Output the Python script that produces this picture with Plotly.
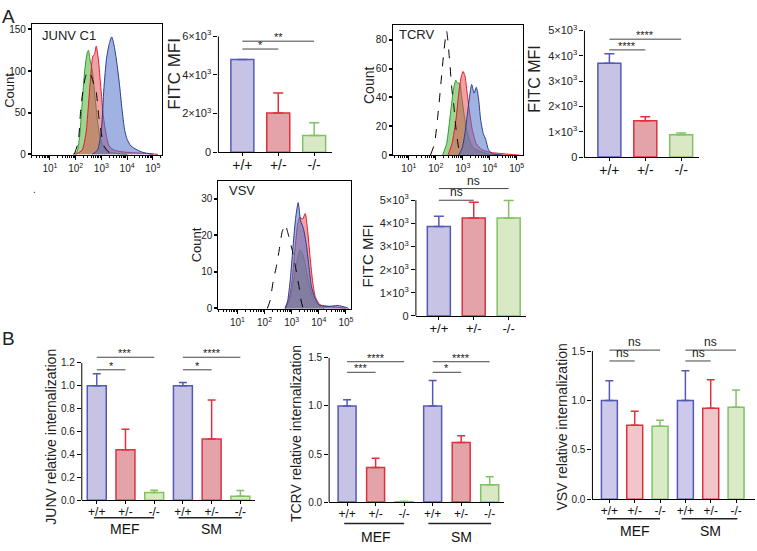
import math
import plotly.graph_objects as go

W, H = 757, 551
FONT = "Arial, Liberation Sans, sans-serif"

# ---------------- data ----------------
genotypes = ["+/+", "+/-", "-/-"]
groups = ["MEF", "SM"]
decades = [1, 2, 3, 4, 5]
decade_labels = ["10<sup>1</sup>", "10<sup>2</sup>", "10<sup>3</sup>", "10<sup>4</sup>", "10<sup>5</sup>"]

# Panel A histograms (x = log10 FITC, y = count)
junv_iso_x = [1.95, 2.1, 2.2, 2.3, 2.4, 2.5, 2.6, 2.7, 2.8, 2.9, 3.0, 3.1, 3.3, 3.5]
junv_iso_y = [0, 15, 55, 80, 95, 100, 95, 85, 75, 45, 25, 10, 2, 0]
junv_green_x = [1.9, 2.05, 2.15, 2.25, 2.35, 2.45, 2.5, 2.55, 2.65, 2.75, 2.85, 2.95, 3.1, 3.3, 3.6, 4.0]
junv_green_y = [0, 3, 20, 60, 100, 122, 125, 115, 100, 70, 40, 20, 8, 3, 1, 0]
junv_red_x = [2.0, 2.25, 2.4, 2.5, 2.6, 2.67, 2.73, 2.8, 2.88, 2.98, 3.08, 3.18, 3.3, 3.5, 3.8, 4.2, 4.8, 5.2]
junv_red_y = [0, 5, 25, 60, 100, 118, 120, 130, 115, 80, 45, 25, 10, 5, 3, 2, 1, 0]
junv_blue_x = [2.65, 2.85, 3.0, 3.1, 3.2, 3.3, 3.4, 3.5, 3.6, 3.7, 3.8, 3.9, 4.0, 4.15, 4.35, 4.55, 4.8, 5.0]
junv_blue_y = [0, 5, 30, 80, 115, 132, 141, 130, 110, 85, 55, 30, 18, 10, 6, 3, 1, 0]

tcrv_iso_x = [1.8, 1.95, 2.1, 2.2, 2.3, 2.4, 2.5, 2.6, 2.67, 2.75, 2.85, 2.95]
tcrv_iso_y = [0, 8, 32, 52, 72, 86, 68, 45, 34, 18, 5, 0]
tcrv_green_x = [2.25, 2.4, 2.55, 2.65, 2.74, 2.8, 2.88, 2.95, 3.05, 3.15, 3.25, 3.4, 3.6, 3.9, 4.3]
tcrv_green_y = [0, 8, 30, 45, 52, 50, 50, 42, 28, 17, 10, 5, 3, 1, 0]
tcrv_red_x = [2.45, 2.6, 2.75, 2.85, 2.95, 3.01, 3.08, 3.15, 3.25, 3.35, 3.5, 3.7, 4.0, 4.5, 5.1]
tcrv_red_y = [0, 8, 25, 43, 55, 58, 55, 45, 30, 18, 8, 4, 2, 1, 0]
tcrv_blue_x = [2.85, 2.98, 3.08, 3.18, 3.27, 3.33, 3.42, 3.5, 3.58, 3.66, 3.76, 3.85, 3.95, 4.1, 4.5]
tcrv_blue_y = [0, 5, 15, 30, 43, 49, 43, 47, 40, 25, 15, 11, 4, 1, 0]

vsv_iso_x = [2.1, 2.2, 2.32, 2.45, 2.54, 2.65, 2.76, 2.85, 2.95, 3.02, 3.15, 3.27, 3.35, 3.42]
vsv_iso_y = [0, 2, 7.5, 12, 16, 21, 23, 21, 18, 16, 11, 6, 2, 0]
vsv_green_x = [2.78, 2.9, 3.0, 3.1, 3.2, 3.3, 3.4, 3.5, 3.6, 3.7, 3.8, 3.95, 4.2]
vsv_green_y = [0, 2, 5, 9, 13, 16, 15, 12, 8, 5, 2.5, 1, 0]
vsv_red_x = [2.78, 2.92, 3.02, 3.12, 3.22, 3.3, 3.4, 3.5, 3.58, 3.68, 3.78, 3.88, 4.05, 4.5, 5.0]
vsv_red_y = [0, 3, 8, 16, 23, 25, 24.5, 26, 22, 14, 7, 3, 1, 0.5, 0]
vsv_blue_x = [2.75, 2.85, 2.95, 3.05, 3.15, 3.24, 3.33, 3.43, 3.53, 3.63, 3.73, 3.85, 4.0, 4.3, 4.7, 5.0, 5.1]
vsv_blue_y = [0, 2, 8, 17, 25, 29, 24, 22, 18, 12, 6, 3, 1, 0.5, 0.8, 0.3, 0]

# Panel A FITC MFI bars
junv_mfi = [4800, 2030, 870]
junv_mfi_err = [0, 1030, 660]
tcrv_mfi = [3700, 1440, 880]
tcrv_mfi_err = [380, 150, 70]
vsv_mfi = [3860, 4230, 4230]
vsv_mfi_err = [450, 680, 760]

junv_mfi_sig = [(0, 1, "*", 5339), (0, 2, "**", 5746)]
tcrv_mfi_sig = [(0, 1, "****", 4231), (0, 2, "****", 4654)]
vsv_mfi_sig = [(0, 1, "ns", 5000), (0, 2, "ns", 5504)]

mfi6_ticks = [0, 2000, 4000, 6000]
mfi6_labels = ["0", "2×10<sup>3</sup>", "4×10<sup>3</sup>", "6×10<sup>3</sup>"]
mfi5_ticks = [0, 1000, 2000, 3000, 4000, 5000]
mfi5_labels = ["0", "1×10<sup>3</sup>", "2×10<sup>3</sup>", "3×10<sup>3</sup>", "4×10<sup>3</sup>", "5×10<sup>3</sup>"]

# Panel B relative internalization (MEF +/+, +/-, -/-, SM +/+, +/-, -/-)
junv_int = [1.0, 0.44, 0.068, 1.0, 0.535, 0.035]
junv_int_err = [0.105, 0.18, 0.018, 0.03, 0.34, 0.05]
tcrv_int = [1.0, 0.36, 0.005, 1.0, 0.62, 0.18]
tcrv_int_err = [0.065, 0.095, 0.005, 0.265, 0.07, 0.085]
vsv_int = [1.0, 0.75, 0.74, 1.0, 0.92, 0.93]
vsv_int_err = [0.2, 0.14, 0.06, 0.3, 0.29, 0.175]

junv_int_sig = [(0, 1, "*", 1.14), (0, 2, "***", 1.25), (3, 4, "*", 1.14), (3, 5, "****", 1.25)]
tcrv_int_sig = [(0, 1, "***", 1.35), (0, 2, "****", 1.46), (3, 4, "*", 1.35), (3, 5, "****", 1.46)]
vsv_int_sig = [(0, 1, "ns", 1.40), (0, 2, "ns", 1.51), (3, 4, "ns", 1.40), (3, 5, "ns", 1.51)]

# ---------------- styles ----------------
bar_fill = ["#c7c3e5", "#e3a3a8", "#d9e9c6"]
bar_fill_light = ["#cdc9ea", "#f1c5ca", "#d9eac6"]
bar_line = ["#5459b6", "#e0303e", "#80c264"]
hist_line = ["#2f9a2f", "#e41b2b", "#2c3c8e"]
hist_fill = ["rgba(95,185,75,0.6)", "rgba(225,70,80,0.5)", "rgba(80,115,200,0.55)"]

fig = go.Figure()
layout = dict(width=W, height=H, margin=dict(l=0, r=0, t=0, b=0),
              paper_bgcolor="white", plot_bgcolor="rgba(0,0,0,0)",
              showlegend=False, font=dict(family=FONT, color="#222"))
annotations = []
shapes = []


def px_x(a, b):
    return [a / W, b / W]


def px_y(top, bottom):
    return [1 - bottom / H, 1 - top / H]


def names(n):
    s = "" if n == 1 else str(n)
    return "xaxis" + s, "yaxis" + s, "x" + s, "y" + s


def text(x, y, t, size, angle=0, xanchor="center", yanchor="middle"):
    annotations.append(dict(x=x / W, y=1 - y / H, xref="paper", yref="paper", text=t,
                            showarrow=False, textangle=angle, xanchor=xanchor, yanchor=yanchor,
                            font=dict(size=size, family=FONT, color="#222")))


minor_vals = [d + math.log10(k) for d in range(0, 6) for k in range(2, 10)]


def add_hist(n, box, xr, yr, ytv, curves, iso):
    xa, ya, xs, ys = names(n)
    layout[xa] = dict(domain=px_x(box[0], box[2]), range=xr, anchor=ys, tickmode="array",
                      tickvals=decades, ticktext=decade_labels, ticks="outside", ticklen=4,
                      tickcolor="black", showline=True, mirror=True, linecolor="black", linewidth=1,
                      showgrid=False, zeroline=False, tickfont=dict(size=10, color="#222"),
                      minor=dict(tickmode="array", tickvals=minor_vals, ticks="outside", ticklen=2,
                                 tickcolor="black"))
    layout[ya] = dict(domain=px_y(box[1], box[3]), range=yr, anchor=xs, tickmode="array",
                      tickvals=ytv, ticks="outside", ticklen=3, tickwidth=2, tickcolor="black",
                      showline=True, mirror=True, linecolor="black", linewidth=1, showgrid=False,
                      zeroline=False, tickfont=dict(size=10, color="#222"))
    for (cx, cy), lc, fc in zip(curves, hist_line, hist_fill):
        fig.add_trace(go.Scatter(x=cx, y=cy, mode="lines", fill="tozeroy", fillcolor=fc,
                                 line=dict(color=lc, width=1, shape="spline", smoothing=0.6),
                                 xaxis=xs, yaxis=ys, hoverinfo="skip"))
    fig.add_trace(go.Scatter(x=iso[0], y=iso[1], mode="lines",
                             line=dict(color="black", width=1, dash="dash", shape="spline", smoothing=0.6),
                             xaxis=xs, yaxis=ys, hoverinfo="skip"))


def add_bars(n, axis_px, right_px, first_px, spacing_px, top_px, bottom_px, yr, ytv, ytt,
             vals, errs, sig, width, fills, ntick_font, yfont, cap):
    xa, ya, xs, ys = names(n)
    npos = len(vals)
    xr = [(axis_px - first_px) / spacing_px, (right_px - first_px) / spacing_px]
    layout[xa] = dict(domain=px_x(axis_px, right_px), range=xr, anchor=ys, tickmode="array",
                      tickvals=list(range(npos)), ticktext=[genotypes[i % 3] for i in range(npos)],
                      ticks="outside", ticklen=3, tickcolor="black", showline=True,
                      linecolor="black", linewidth=1, showgrid=False, zeroline=False,
                      ticklabelstandoff=-3,
                      tickfont=dict(size=ntick_font, color="#111"))
    ydict = dict(domain=px_y(top_px, bottom_px), range=yr, anchor=xs, tickmode="array",
                 tickvals=ytv, ticks="outside", ticklen=4, tickcolor="black",
                 showline=False, showgrid=False, zeroline=False,
                 tickfont=dict(size=yfont, color="#222"))
    if ytt is not None:
        ydict["ticktext"] = ytt
    else:
        ydict["tickformat"] = ".1f"
    layout[ya] = ydict
    shapes.append(dict(type="line", xref=xs + " domain", yref=ys, x0=0, x1=0, y0=0, y1=ytv[-1],
                       line=dict(color="black", width=1)))
    for g in range(3):
        idx = [i for i in range(npos) if i % 3 == g]
        fig.add_trace(go.Bar(x=idx, y=[vals[i] for i in idx], width=width,
                             marker=dict(color=fills[g], line=dict(color=bar_line[g], width=1.5)),
                             error_y=dict(type="data", symmetric=False, array=[errs[i] for i in idx],
                                          arrayminus=[0] * len(idx), color=bar_line[g],
                                          thickness=1.5, width=cap),
                             xaxis=xs, yaxis=ys, hoverinfo="skip"))
    for i, j, lab, lev in sig:
        shapes.append(dict(type="line", xref=xs, yref=ys, x0=i, x1=j, y0=lev, y1=lev,
                           line=dict(color="#444", width=1)))
        star = "*" in lab
        annotations.append(dict(x=(i + j) / 2, y=lev, xref=xs, yref=ys, text=lab, showarrow=False,
                                yanchor="bottom", yshift=-4 if star else -1,
                                font=dict(size=11 if star else 12, family=FONT, color="#222")))


# ---- Panel A ----
add_hist(1, (32, 16, 162, 151), [0.30, 5.34], [-1, 157], [0, 50, 100, 150],
         [(junv_green_x, junv_green_y), (junv_red_x, junv_red_y), (junv_blue_x, junv_blue_y)],
         (junv_iso_x, junv_iso_y))
add_hist(3, (394, 17, 524, 151), [0.41, 5.22], [0, 90.5], [0, 20, 40, 60, 80],
         [(tcrv_green_x, tcrv_green_y), (tcrv_red_x, tcrv_red_y), (tcrv_blue_x, tcrv_blue_y)],
         (tcrv_iso_x, tcrv_iso_y))
add_hist(5, (219, 178, 352, 309), [0.30, 5.19], [-0.2, 34.8], [0, 10, 20, 30],
         [(vsv_green_x, vsv_green_y), (vsv_red_x, vsv_red_y), (vsv_blue_x, vsv_blue_y)],
         (vsv_iso_x, vsv_iso_y))

add_bars(2, 219, 333, 243, 36, 29, 148, [0, 6000], mfi6_ticks, mfi6_labels,
         junv_mfi, junv_mfi_err, junv_mfi_sig, 0.64, bar_fill, 14, 11, 5)
add_bars(4, 586, 701, 611, 36, 23, 153, [0, 5000], mfi5_ticks, mfi5_labels,
         tcrv_mfi, tcrv_mfi_err, tcrv_mfi_sig, 0.64, bar_fill, 14, 11, 5)
add_bars(6, 417, 527, 440, 35, 183, 316, [0, 5600], mfi5_ticks, mfi5_labels,
         vsv_mfi, vsv_mfi_err, vsv_mfi_sig, 0.66, bar_fill, 13, 11, 5)

# ---- Panel B ----
add_bars(7, 82, 256, 97, 28.8, 356, 505, [0, 1.27], [0, 0.2, 0.4, 0.6, 0.8, 1.0, 1.2], None,
         junv_int, junv_int_err, junv_int_sig, 0.66, bar_fill, 12, 10, 4)
add_bars(8, 330, 505, 348, 28.6, 359, 507, [0, 1.5], [0, 0.5, 1.0, 1.5], None,
         tcrv_int, tcrv_int_err, tcrv_int_sig, 0.63, bar_fill, 12, 10, 4)
add_bars(9, 594, 757, 611, 25.4, 349, 504, [0, 1.53], [0, 0.5, 1.0, 1.5], None,
         vsv_int, vsv_int_err, vsv_int_sig, 0.63, bar_fill_light, 12, 10, 4)

# group underlines + labels in panel B
for n, line_off, lab_off, hpx in [(7, 18, 30, 149), (8, 22, 36, 148), (9, 20, 33, 155)]:
    xa, ya, xs, ys = names(n)
    for g, (a, b) in enumerate([(-0.1, 2.0), (2.85, 5.05)]):
        shapes.append(dict(type="line", xref=xs, yref=ys + " domain", x0=a, x1=b,
                           y0=-line_off / hpx, y1=-line_off / hpx, line=dict(color="#222", width=1.5)))
        annotations.append(dict(x=1 + 3 * g, y=-lab_off / hpx, xref=xs, yref=ys + " domain",
                                text=groups[g], showarrow=False, yanchor="middle",
                                font=dict(size=14, family=FONT, color="#111")))

# axis titles and labels
text(10, 84, "Count", 13, -90)
text(370, 80, "Count", 14, -90)
text(197, 243, "Count", 13, -90)
text(175, 68, "FITC MFI", 17, -90)
text(536, 73, "FITC MFI", 16, -90)
text(368, 255, "FITC MFI", 15, -90)
text(51, 440, "JUNV relative internalization", 14, -90)
text(297, 437, "TCRV relative internalization", 14, -90)
text(564, 430, "VSV relative internalization", 14, -90)
text(40, 28, "JUNV C1", 13, xanchor="left")
text(398, 27, "TCRV", 13, xanchor="left")
text(228, 187, "VSV", 13, xanchor="left")
text(0, 9, "A", 19, xanchor="left")
text(0, 339, "B", 19, xanchor="left")
text(35, 186, ".", 10)

layout["annotations"] = annotations
layout["shapes"] = shapes
layout["barmode"] = "overlay"
fig.update_layout(**layout)
fig.write_html("out.html", config={"displayModeBar": False},
               post_script="document.body.style.margin='0';")
